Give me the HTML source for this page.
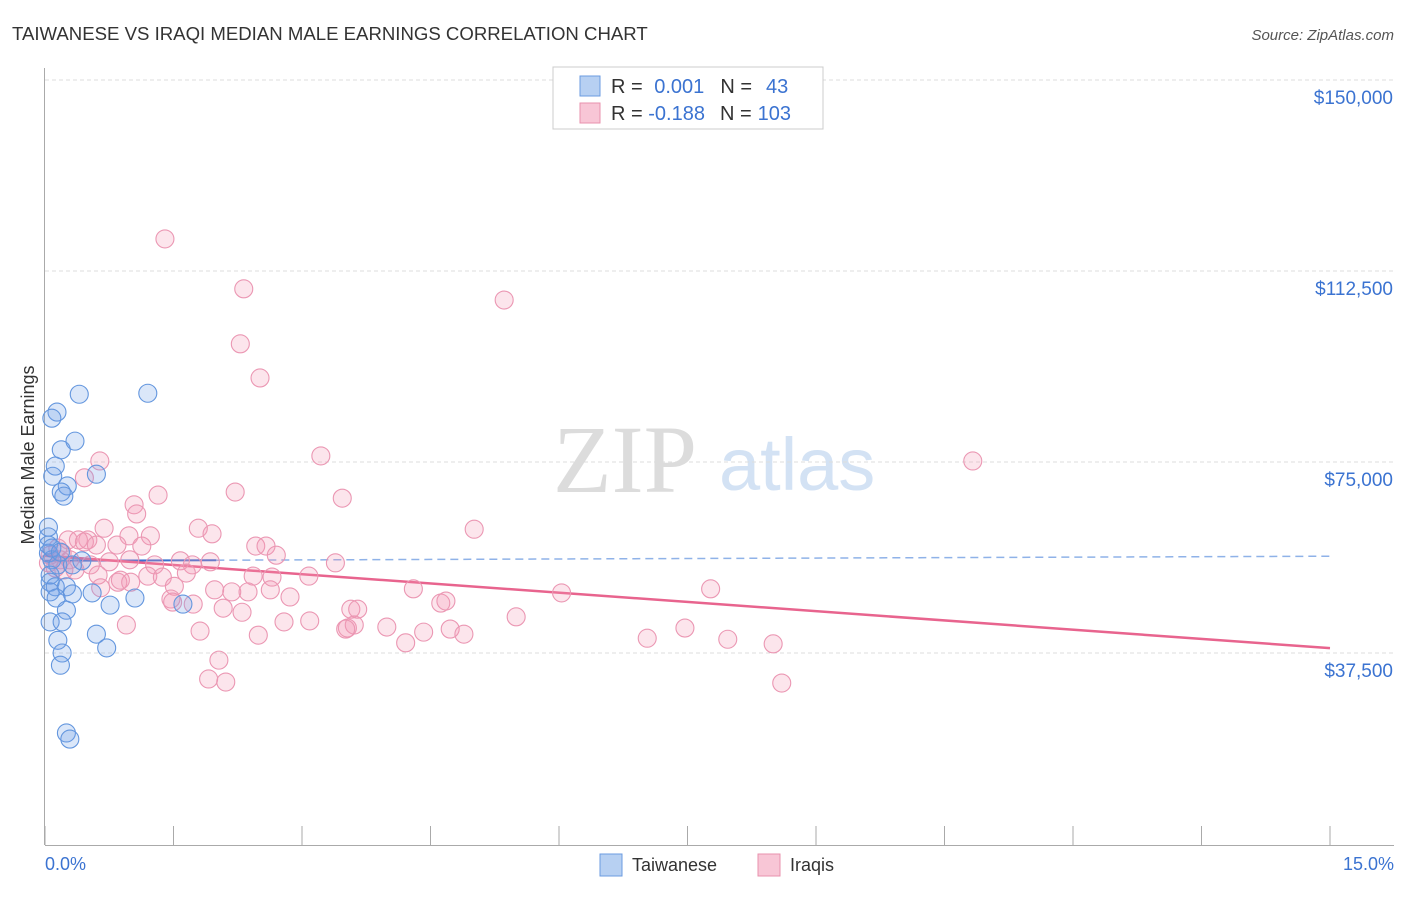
<!DOCTYPE html>
<html><head><meta charset="utf-8"><style>
body{margin:0;background:#fff;font-family:"Liberation Sans",sans-serif}
</style></head><body>
<svg id="chart" width="1406" height="892" viewBox="0 0 1406 892" xmlns="http://www.w3.org/2000/svg">
<text x="12" y="40" font-size="18.6" fill="#333">TAIWANESE VS IRAQI MEDIAN MALE EARNINGS CORRELATION CHART</text>
<text x="1394" y="40" font-size="15" fill="#555" font-style="italic" text-anchor="end">Source: ZipAtlas.com</text>
<g>
<text x="553" y="492" font-size="96" font-family="Liberation Serif,serif" fill="#dcdcdc">ZIP</text>
<text x="719" y="490" font-size="74" fill="#d3e2f4">atlas</text>
</g>
<g id="grid"></g>
<g id="axes"></g>
<g id="trend"></g>
<g id="pts"></g>
<text transform="translate(34,455) rotate(-90)" font-size="18" fill="#333" text-anchor="middle">Median Male Earnings</text>
<text x="45" y="870" font-size="18" fill="#3b73d1">0.0%</text>
<text x="1394" y="870" font-size="18" fill="#3b73d1" text-anchor="end">15.0%</text>
<g>
<rect x="553" y="67" width="270" height="62" fill="#fff" stroke="#ccc"/>
<rect x="580" y="76" width="20" height="20" fill="#b7d0f2" stroke="#6b9be0"/>
<rect x="580" y="103" width="20" height="20" fill="#f8c6d6" stroke="#e891ad"/>
<text x="611" y="93" font-size="20" fill="#333">R = <tspan fill="#3b73d1" dx="6">0.001</tspan><tspan dx="16">N =</tspan><tspan fill="#3b73d1" dx="14">43</tspan></text>
<text x="611" y="120" font-size="20" fill="#333">R = <tspan fill="#3b73d1" dx="0">-0.188</tspan><tspan dx="15">N =</tspan><tspan fill="#3b73d1" dx="6">103</tspan></text>
</g>
<g>
<rect x="600" y="854" width="22" height="22" fill="#b7d0f2" stroke="#6b9be0"/>
<text x="632" y="871" font-size="18" fill="#333">Taiwanese</text>
<rect x="758" y="854" width="22" height="22" fill="#f8c6d6" stroke="#e891ad"/>
<text x="790" y="871" font-size="18" fill="#333">Iraqis</text>
</g>
</svg>
<script>
const yTicks=[150000,112500,75000,37500];
const yTickLabels=["$150,000","$112,500","$75,000","$37,500"];
const xTicks=[0,1.5,3,4.5,6,7.5,9,10.5,12,13.5,15];
const twX=[0.40,1.20,0.14,0.08,0.35,0.19,0.12,0.09,0.60,0.26,0.19,0.22,0.04,0.04,0.04,0.08,0.15,0.32,0.43,0.06,0.06,0.12,0.25,0.06,0.13,0.32,0.55,1.05,0.76,1.61,0.25,0.06,0.20,0.60,0.15,0.20,0.18,0.72,0.25,0.29,0.04,0.08,0.18];
const twY=[88.3,88.5,84.8,83.6,79.1,77.4,74.2,72.2,72.6,70.3,69.1,68.3,62.2,60.3,57.1,55.8,54.8,54.8,55.6,52.8,51.4,50.5,50.5,49.5,48.3,49.1,49.3,48.3,46.9,47.1,45.9,43.6,43.6,41.2,40.0,37.5,35.1,38.5,21.8,20.6,58.7,58.1,57.3];
const iqX=[1.40,2.32,5.36,2.28,2.51,3.22,10.83,0.64,0.46,1.32,2.22,3.47,1.04,1.07,5.01,0.69,1.79,1.95,1.23,0.98,0.50,0.27,0.39,0.46,0.15,0.60,0.84,1.13,2.46,2.58,2.70,0.20,0.99,1.58,1.93,1.28,1.72,3.39,0.75,0.53,0.18,1.20,1.65,1.37,2.43,2.65,3.08,0.62,0.85,0.88,1.51,1.98,2.18,2.63,4.30,6.03,7.77,2.37,2.86,1.47,1.73,2.08,2.30,3.57,3.65,4.62,4.68,5.50,2.79,3.09,0.95,3.53,3.61,3.99,1.81,2.49,3.51,4.42,4.73,4.89,7.03,7.47,7.97,8.50,4.21,2.03,1.91,2.11,8.60,1.49,1.00,0.65,0.29,0.06,0.04,0.12,0.22,0.35];
const iqY=[118.8,109.0,106.8,98.2,91.5,76.2,75.2,75.2,71.9,68.5,69.1,67.9,66.6,64.8,61.8,62.0,62.0,60.9,60.5,60.5,59.7,59.7,59.7,59.3,58.1,58.7,58.7,58.5,58.5,58.5,56.7,57.1,55.8,55.6,55.4,54.8,54.8,55.2,55.4,54.8,55.8,52.6,53.2,52.4,52.6,52.4,52.6,52.8,51.4,51.8,50.6,49.9,49.5,49.9,50.1,49.3,50.1,49.5,48.5,48.1,47.1,46.3,45.5,46.1,46.1,47.3,47.7,44.6,43.6,43.8,43.0,42.4,43.0,42.6,41.8,41.0,42.2,41.6,42.2,41.2,40.4,42.4,40.2,39.3,39.5,36.1,32.4,31.8,31.6,47.5,51.4,50.3,55.8,56.7,55.2,54.2,53.8,53.8];
const twTrend=[55.6,0.06];
const iqTrend=[56.6,-1.21];
const NS="http://www.w3.org/2000/svg";
function xs(p){return 45+p*(1285/15);}
function ys(v){return 80+(150000-v)*191/37500;}
function mk(t,a,parent){const e=document.createElementNS(NS,t);for(const k in a)e.setAttribute(k,a[k]);document.getElementById(parent).appendChild(e);return e;}
yTicks.forEach((v,i)=>{
 const l=mk('line',{x1:45,x2:1394,y1:ys(v),y2:ys(v),stroke:'#ddd','stroke-dasharray':'4,3'},'grid');
 
 
 const t=mk('text',{x:1393,y:ys(v)+24,'font-size':19,fill:'#3b73d1','text-anchor':'end'},'grid');
 t.textContent=yTickLabels[i];
 
 
});
const ax=mk('line',{x1:44.5,x2:44.5,y1:68,y2:845,stroke:'#aaa'},'axes');


const bx=mk('line',{x1:45,x2:1394,y1:845.5,y2:845.5,stroke:'#aaa'},'axes');


xTicks.forEach(p=>{
 const t=mk('line',{x1:xs(p),x2:xs(p),y1:826,y2:845,stroke:'#aaa'},'axes');
 
 
});
const bsol=mk('line',{x1:xs(0),x2:xs(2),y1:ys((twTrend[0]+twTrend[1]*0)*1000),y2:ys((twTrend[0]+twTrend[1]*2)*1000),stroke:'#3b6fd0','stroke-width':2},'trend');


const bdash=mk('line',{x1:xs(2),x2:xs(15),y1:ys((twTrend[0]+twTrend[1]*2)*1000),y2:ys((twTrend[0]+twTrend[1]*15)*1000),stroke:'#8fb2e8','stroke-width':1.5,'stroke-dasharray':'8,5'},'trend');


const pl=mk('line',{x1:xs(0),x2:xs(15),y1:ys(iqTrend[0]*1000),y2:ys((iqTrend[0]+iqTrend[1]*15)*1000),stroke:'#e8648e','stroke-width':2.5},'trend');


iqX.forEach((p,i)=>{
 const c=mk('circle',{cx:xs(p),cy:ys(iqY[i]*1000),r:9,fill:'rgba(244,150,180,0.25)',stroke:'#eb97b3','stroke-width':1.1},'pts');
 
 
});
twX.forEach((p,i)=>{
 const c=mk('circle',{cx:xs(p),cy:ys(twY[i]*1000),r:9,fill:'rgba(110,160,230,0.25)',stroke:'#6396de','stroke-width':1.1},'pts');
 
 
});
</script>
</body></html>
